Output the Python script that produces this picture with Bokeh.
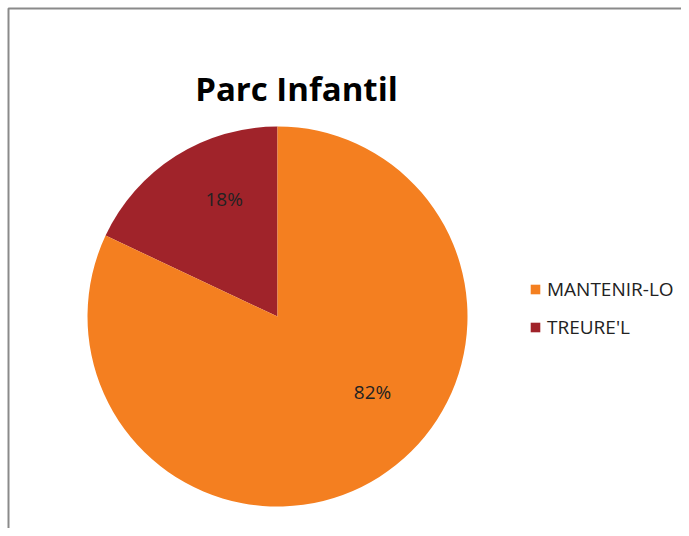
import numpy as np
from bokeh.plotting import figure
from bokeh.models import ColumnDataSource, Legend, LegendItem
from bokeh.core.properties import value
from bokeh.embed import file_html
from bokeh.resources import INLINE

categories = ["TREURE'L", "MANTENIR-LO"]
values = [18, 82]
colors = ["#A0232A", "#F47F20"]
legend_order = ["MANTENIR-LO", "TREURE'L"]
title_text = "Parc Infantil"

W, H = 681, 528
cx, cy, R = 277, 212, 190
label_shift_deg = [-8, 19]
label_rad = [0.68, 0.64]

frac = np.array(values) / sum(values)
ang = frac * 2 * np.pi
start = np.pi / 2 + np.concatenate([[0], np.cumsum(ang)[:-1]])
end = start + ang
mid = (start + end) / 2 + np.radians(label_shift_deg)
lr = np.array(label_rad) * R
src = ColumnDataSource(dict(
    cat=categories, val=values, color=colors,
    start=start, end=end,
    lx=cx + lr * np.cos(mid), ly=cy + lr * np.sin(mid),
    lbl=[f"{v}%" for v in values],
))

p = figure(width=W, height=H, x_range=(0, W), y_range=(0, H),
           output_backend="svg", toolbar_location=None, min_border=0)
p.axis.visible = False
p.grid.visible = False
p.outline_line_color = None

# chart-area border (left and top edges visible)
p.line(x=[8, 8, W + 10], y=[-10, H - 8, H - 8], line_color="#8a8a8a", line_width=2)

r = p.wedge(x=cx, y=cy, radius=R, start_angle="start", end_angle="end",
            fill_color="color", line_color=None, source=src, direction="anticlock")
p.text(x="lx", y="ly", text="lbl", source=src, text_align="center", text_baseline="middle",
       text_font=value("Open Sans"), text_font_size="19px", text_color="#222222")

p.text(x=[296], y=[H - 88], text=[title_text], text_align="center",
       text_baseline="middle", text_font=value("Open Sans"), text_font_size="33px",
       text_font_style="bold", text_color="#000000")

items = []
for name in legend_order:
    i = categories.index(name)
    items.append(LegendItem(label=name, renderers=[r], index=i))
leg = Legend(items=items, location=(529, 188), glyph_width=12, glyph_height=12,
             label_height=20, spacing=12, padding=0, margin=0, border_line_color=None,
             background_fill_alpha=0, label_text_font="Open Sans",
             label_text_font_size="19px", label_text_color="#222222", label_standoff=6)
p.add_layout(leg, "center")

open("out.html", "w").write(file_html(p, INLINE))
